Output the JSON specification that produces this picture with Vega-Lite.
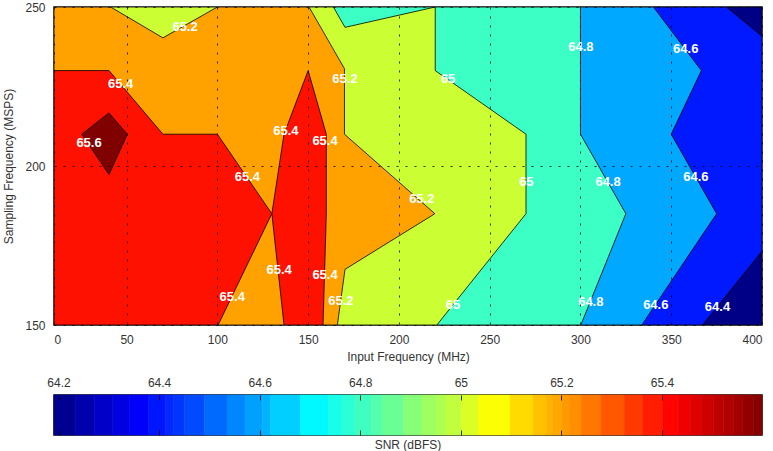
{
  "$schema": "https://vega.github.io/schema/vega-lite/v6.json",
  "background": "white",
  "padding": {"left": 2, "top": 0, "right": 10, "bottom": 0},
  "spacing": 12,
  "config": {
    "font": "Liberation Sans",
    "view": {"stroke": "#000", "strokeWidth": 1.5},
    "axis": {
      "labelFont": "Liberation Sans", "labelFontSize": 12, "labelColor": "#333",
      "titleFont": "Liberation Sans", "titleFontSize": 12, "titleFontWeight": "normal", "titleColor": "#333",
      "domain": false, "ticks": false
    }
  },
  "datasets": {
    "polys": [
      {"p": "a", "level": 64.2, "ord": 0, "mhz": 10, "msps": 150},
      {"p": "a", "level": 64.2, "ord": 1, "mhz": 10, "msps": 250},
      {"p": "a", "level": 64.2, "ord": 2, "mhz": 400, "msps": 250},
      {"p": "a", "level": 64.2, "ord": 3, "mhz": 400, "msps": 150},

      {"p": "b", "level": 64.4, "ord": 0, "mhz": 10, "msps": 150},
      {"p": "b", "level": 64.4, "ord": 1, "mhz": 10, "msps": 250},
      {"p": "b", "level": 64.4, "ord": 2, "mhz": 380.4, "msps": 250},
      {"p": "b", "level": 64.4, "ord": 3, "mhz": 400, "msps": 240.8},
      {"p": "b", "level": 64.4, "ord": 4, "mhz": 400, "msps": 173.2},
      {"p": "b", "level": 64.4, "ord": 5, "mhz": 367.2, "msps": 150},

      {"p": "c", "level": 64.6, "ord": 0, "mhz": 10, "msps": 150},
      {"p": "c", "level": 64.6, "ord": 1, "mhz": 10, "msps": 250},
      {"p": "c", "level": 64.6, "ord": 2, "mhz": 340.2, "msps": 250},
      {"p": "c", "level": 64.6, "ord": 3, "mhz": 366.6, "msps": 230},
      {"p": "c", "level": 64.6, "ord": 4, "mhz": 350, "msps": 210},
      {"p": "c", "level": 64.6, "ord": 5, "mhz": 375, "msps": 185},
      {"p": "c", "level": 64.6, "ord": 6, "mhz": 333.8, "msps": 150},

      {"p": "d", "level": 64.8, "ord": 0, "mhz": 10, "msps": 150},
      {"p": "d", "level": 64.8, "ord": 1, "mhz": 10, "msps": 250},
      {"p": "d", "level": 64.8, "ord": 2, "mhz": 300, "msps": 250},
      {"p": "d", "level": 64.8, "ord": 3, "mhz": 300, "msps": 210},
      {"p": "d", "level": 64.8, "ord": 4, "mhz": 325, "msps": 185},
      {"p": "d", "level": 64.8, "ord": 5, "mhz": 300.2, "msps": 150},

      {"p": "e", "level": 65.0, "ord": 0, "mhz": 10, "msps": 150},
      {"p": "e", "level": 65.0, "ord": 1, "mhz": 10, "msps": 250},
      {"p": "e", "level": 65.0, "ord": 2, "mhz": 163.9, "msps": 250},
      {"p": "e", "level": 65.0, "ord": 3, "mhz": 170.3, "msps": 243.6},
      {"p": "e", "level": 65.0, "ord": 4, "mhz": 220, "msps": 250},
      {"p": "e", "level": 65.0, "ord": 5, "mhz": 220, "msps": 230},
      {"p": "e", "level": 65.0, "ord": 6, "mhz": 270, "msps": 210},
      {"p": "e", "level": 65.0, "ord": 7, "mhz": 270, "msps": 185},
      {"p": "e", "level": 65.0, "ord": 8, "mhz": 220.9, "msps": 150},

      {"p": "f", "level": 65.2, "ord": 0, "mhz": 10, "msps": 150},
      {"p": "f", "level": 65.2, "ord": 1, "mhz": 10, "msps": 250},
      {"p": "f", "level": 65.2, "ord": 2, "mhz": 41.2, "msps": 250},
      {"p": "f", "level": 65.2, "ord": 3, "mhz": 70, "msps": 240.3},
      {"p": "f", "level": 65.2, "ord": 4, "mhz": 100, "msps": 250},
      {"p": "f", "level": 65.2, "ord": 5, "mhz": 150.5, "msps": 250},
      {"p": "f", "level": 65.2, "ord": 6, "mhz": 170, "msps": 230.6},
      {"p": "f", "level": 65.2, "ord": 7, "mhz": 170, "msps": 210},
      {"p": "f", "level": 65.2, "ord": 8, "mhz": 219.8, "msps": 185},
      {"p": "f", "level": 65.2, "ord": 9, "mhz": 170.3, "msps": 167.5},
      {"p": "f", "level": 65.2, "ord": 10, "mhz": 166.1, "msps": 150},

      {"p": "g", "level": 65.4, "ord": 0, "mhz": 10, "msps": 150},
      {"p": "g", "level": 65.4, "ord": 1, "mhz": 10, "msps": 230},
      {"p": "g", "level": 65.4, "ord": 2, "mhz": 40.3, "msps": 230},
      {"p": "g", "level": 65.4, "ord": 3, "mhz": 70, "msps": 210},
      {"p": "g", "level": 65.4, "ord": 4, "mhz": 100, "msps": 210},
      {"p": "g", "level": 65.4, "ord": 5, "mhz": 130, "msps": 185},
      {"p": "g", "level": 65.4, "ord": 6, "mhz": 100.4, "msps": 150},

      {"p": "h", "level": 65.4, "ord": 0, "mhz": 150, "msps": 230},
      {"p": "h", "level": 65.4, "ord": 1, "mhz": 136.7, "msps": 210},
      {"p": "h", "level": 65.4, "ord": 2, "mhz": 130, "msps": 185},
      {"p": "h", "level": 65.4, "ord": 3, "mhz": 136.7, "msps": 150},
      {"p": "h", "level": 65.4, "ord": 4, "mhz": 158.2, "msps": 150},
      {"p": "h", "level": 65.4, "ord": 5, "mhz": 160, "msps": 185},
      {"p": "h", "level": 65.4, "ord": 6, "mhz": 160, "msps": 210},

      {"p": "i", "level": 65.6, "ord": 0, "mhz": 40.3, "msps": 216.7},
      {"p": "i", "level": 65.6, "ord": 1, "mhz": 50.4, "msps": 210},
      {"p": "i", "level": 65.6, "ord": 2, "mhz": 40.3, "msps": 197.3},
      {"p": "i", "level": 65.6, "ord": 3, "mhz": 25.3, "msps": 210}
    ],
    "labels": [
      {"lab": "65.2", "mhz": 82.2, "msps": 243.7},
      {"lab": "65.4", "mhz": 46.7, "msps": 225.9},
      {"lab": "65.6", "mhz": 29.3, "msps": 207.2},
      {"lab": "65.2", "mhz": 170.3, "msps": 227.3},
      {"lab": "65", "mhz": 227.1, "msps": 227.3},
      {"lab": "65.4", "mhz": 137.7, "msps": 210.9},
      {"lab": "65.4", "mhz": 159.3, "msps": 207.8},
      {"lab": "64.8", "mhz": 300.2, "msps": 237.4},
      {"lab": "64.6", "mhz": 358.0, "msps": 236.7},
      {"lab": "65.4", "mhz": 116.5, "msps": 196.5},
      {"lab": "65.4", "mhz": 108.2, "msps": 158.8},
      {"lab": "65.2", "mhz": 212.6, "msps": 189.5},
      {"lab": "65.4", "mhz": 134.0, "msps": 167.2},
      {"lab": "65.4", "mhz": 159.3, "msps": 165.6},
      {"lab": "65.2", "mhz": 168.0, "msps": 157.5},
      {"lab": "65", "mhz": 229.8, "msps": 156.2},
      {"lab": "65", "mhz": 270.2, "msps": 195.0},
      {"lab": "64.8", "mhz": 315.2, "msps": 195.0},
      {"lab": "64.6", "mhz": 363.6, "msps": 196.5},
      {"lab": "64.8", "mhz": 305.7, "msps": 157.2},
      {"lab": "64.6", "mhz": 341.5, "msps": 156.2},
      {"lab": "64.4", "mhz": 375.5, "msps": 155.7}
    ],
    "cbar": [
      {"lo": 64.191, "hi": 64.233, "snr": 64.212},
      {"lo": 64.233, "hi": 64.271, "snr": 64.252},
      {"lo": 64.271, "hi": 64.308, "snr": 64.290},
      {"lo": 64.308, "hi": 64.341, "snr": 64.325},
      {"lo": 64.341, "hi": 64.379, "snr": 64.360},
      {"lo": 64.379, "hi": 64.412, "snr": 64.396},
      {"lo": 64.412, "hi": 64.429, "snr": 64.421},
      {"lo": 64.429, "hi": 64.450, "snr": 64.440},
      {"lo": 64.450, "hi": 64.490, "snr": 64.470},
      {"lo": 64.490, "hi": 64.535, "snr": 64.513},
      {"lo": 64.535, "hi": 64.571, "snr": 64.553},
      {"lo": 64.571, "hi": 64.605, "snr": 64.588},
      {"lo": 64.605, "hi": 64.622, "snr": 64.614},
      {"lo": 64.622, "hi": 64.681, "snr": 64.652},
      {"lo": 64.681, "hi": 64.736, "snr": 64.709},
      {"lo": 64.736, "hi": 64.765, "snr": 64.751},
      {"lo": 64.765, "hi": 64.789, "snr": 64.777},
      {"lo": 64.789, "hi": 64.822, "snr": 64.806},
      {"lo": 64.822, "hi": 64.845, "snr": 64.834},
      {"lo": 64.845, "hi": 64.886, "snr": 64.866},
      {"lo": 64.886, "hi": 64.923, "snr": 64.905},
      {"lo": 64.923, "hi": 64.951, "snr": 64.937},
      {"lo": 64.951, "hi": 64.971, "snr": 64.961},
      {"lo": 64.971, "hi": 65.001, "snr": 64.986},
      {"lo": 65.001, "hi": 65.035, "snr": 65.018},
      {"lo": 65.035, "hi": 65.098, "snr": 65.067},
      {"lo": 65.098, "hi": 65.144, "snr": 65.121},
      {"lo": 65.144, "hi": 65.170, "snr": 65.157},
      {"lo": 65.170, "hi": 65.183, "snr": 65.177},
      {"lo": 65.183, "hi": 65.201, "snr": 65.192},
      {"lo": 65.201, "hi": 65.216, "snr": 65.209},
      {"lo": 65.216, "hi": 65.240, "snr": 65.228},
      {"lo": 65.240, "hi": 65.279, "snr": 65.260},
      {"lo": 65.279, "hi": 65.325, "snr": 65.302},
      {"lo": 65.325, "hi": 65.362, "snr": 65.344},
      {"lo": 65.362, "hi": 65.402, "snr": 65.382},
      {"lo": 65.402, "hi": 65.433, "snr": 65.418},
      {"lo": 65.433, "hi": 65.456, "snr": 65.445},
      {"lo": 65.456, "hi": 65.478, "snr": 65.467},
      {"lo": 65.478, "hi": 65.502, "snr": 65.490},
      {"lo": 65.502, "hi": 65.523, "snr": 65.513},
      {"lo": 65.523, "hi": 65.543, "snr": 65.533},
      {"lo": 65.543, "hi": 65.561, "snr": 65.552},
      {"lo": 65.561, "hi": 65.582, "snr": 65.572},
      {"lo": 65.582, "hi": 65.599, "snr": 65.591}
    ]
  },
  "vconcat": [
    {
      "width": 708,
      "height": 318,
      "encoding": {
        "x": {
          "field": "mhz", "type": "quantitative",
          "scale": {"domain": [10, 400], "nice": false, "zero": false},
          "axis": {
            "title": "Input Frequency (MHz)",
            "values": [10, 50, 100, 150, 200, 250, 300, 350, 400],
            "labelExpr": "datum.value == 10 ? '0' : datum.label",
            "labelPadding": 9, "titlePadding": 6,
            "grid": true, "gridDash": [2, 7], "gridColor": "#000", "gridOpacity": 0.8, "gridWidth": 1,
            "zindex": 1
          }
        },
        "y": {
          "field": "msps", "type": "quantitative",
          "scale": {"domain": [150, 250], "nice": false, "zero": false},
          "axis": {
            "title": "Sampling Frequency (MSPS)",
            "values": [150, 200, 250],
            "labelPadding": 9, "titlePadding": 9,
            "grid": true, "gridDash": [2, 7], "gridColor": "#000", "gridOpacity": 0.8, "gridWidth": 1,
            "zindex": 1
          }
        }
      },
      "layer": [
        {
          "data": {"name": "polys"},
          "encoding": {
            "order": {"field": "ord", "type": "quantitative"},
            "detail": {"field": "p", "type": "nominal"},
            "color": {
              "field": "level", "type": "quantitative", "legend": null,
              "scale": {
                "type": "linear",
                "domain": [64.19, 64.366, 64.719, 65.071, 65.424, 65.6],
                "range": ["#000080", "#0000ff", "#00ffff", "#ffff00", "#ff0000", "#800000"],
                "interpolate": "rgb"
              }
            }
          },
          "layer": [
            {"transform": [{"filter": {"field": "p", "equal": "a"}}], "mark": {"type": "line", "filled": true, "interpolate": "linear-closed", "stroke": "#000", "strokeWidth": 0.8, "clip": true}},
            {"transform": [{"filter": {"field": "p", "equal": "b"}}], "mark": {"type": "line", "filled": true, "interpolate": "linear-closed", "stroke": "#000", "strokeWidth": 0.8, "clip": true}},
            {"transform": [{"filter": {"field": "p", "equal": "c"}}], "mark": {"type": "line", "filled": true, "interpolate": "linear-closed", "stroke": "#000", "strokeWidth": 0.8, "clip": true}},
            {"transform": [{"filter": {"field": "p", "equal": "d"}}], "mark": {"type": "line", "filled": true, "interpolate": "linear-closed", "stroke": "#000", "strokeWidth": 0.8, "clip": true}},
            {"transform": [{"filter": {"field": "p", "equal": "e"}}], "mark": {"type": "line", "filled": true, "interpolate": "linear-closed", "stroke": "#000", "strokeWidth": 0.8, "clip": true}},
            {"transform": [{"filter": {"field": "p", "equal": "f"}}], "mark": {"type": "line", "filled": true, "interpolate": "linear-closed", "stroke": "#000", "strokeWidth": 0.8, "clip": true}},
            {"transform": [{"filter": {"field": "p", "oneOf": ["g", "h"]}}], "mark": {"type": "line", "filled": true, "interpolate": "linear-closed", "stroke": "#000", "strokeWidth": 0.8, "clip": true}},
            {"transform": [{"filter": {"field": "p", "equal": "i"}}], "mark": {"type": "line", "filled": true, "interpolate": "linear-closed", "stroke": "#000", "strokeWidth": 0.8, "clip": true}}
          ]
        },
        {
          "data": {"name": "labels"},
          "mark": {"type": "text", "color": "#fff", "font": "Liberation Sans", "fontWeight": "bold", "fontSize": 13, "baseline": "middle", "align": "center"},
          "encoding": {"text": {"field": "lab", "type": "nominal"}}
        }
      ]
    },
    {
      "width": 708,
      "height": 40,
      "data": {"name": "cbar"},
      "title": {"text": "SNR (dBFS)", "orient": "bottom", "fontSize": 12, "fontWeight": "normal", "color": "#333", "font": "Liberation Sans", "offset": 5},
      "mark": {"type": "rect", "strokeWidth": 0.6},
      "encoding": {
        "x": {
          "field": "lo", "type": "quantitative",
          "scale": {"domain": [64.191, 65.599], "nice": false, "zero": false},
          "axis": {
            "orient": "top", "title": null,
            "values": [64.2, 64.4, 64.6, 64.8, 65, 65.2, 65.4],
            "format": "~g", "labelPadding": 6,
            "grid": true, "gridDash": [5, 30], "gridColor": "#000", "gridOpacity": 0.8, "gridWidth": 1,
            "zindex": 1
          }
        },
        "x2": {"field": "hi"},
        "color": {
          "field": "snr", "type": "quantitative", "legend": null,
          "scale": {
            "type": "linear",
            "domain": [64.19, 64.366, 64.719, 65.071, 65.424, 65.6],
            "range": ["#000080", "#0000ff", "#00ffff", "#ffff00", "#ff0000", "#800000"],
            "interpolate": "rgb"
          }
        },
        "stroke": {
          "field": "snr", "type": "quantitative", "legend": null,
          "scale": {
            "type": "linear",
            "domain": [64.19, 64.366, 64.719, 65.071, 65.424, 65.6],
            "range": ["#000080", "#0000ff", "#00ffff", "#ffff00", "#ff0000", "#800000"],
            "interpolate": "rgb"
          }
        }
      }
    }
  ]
}
